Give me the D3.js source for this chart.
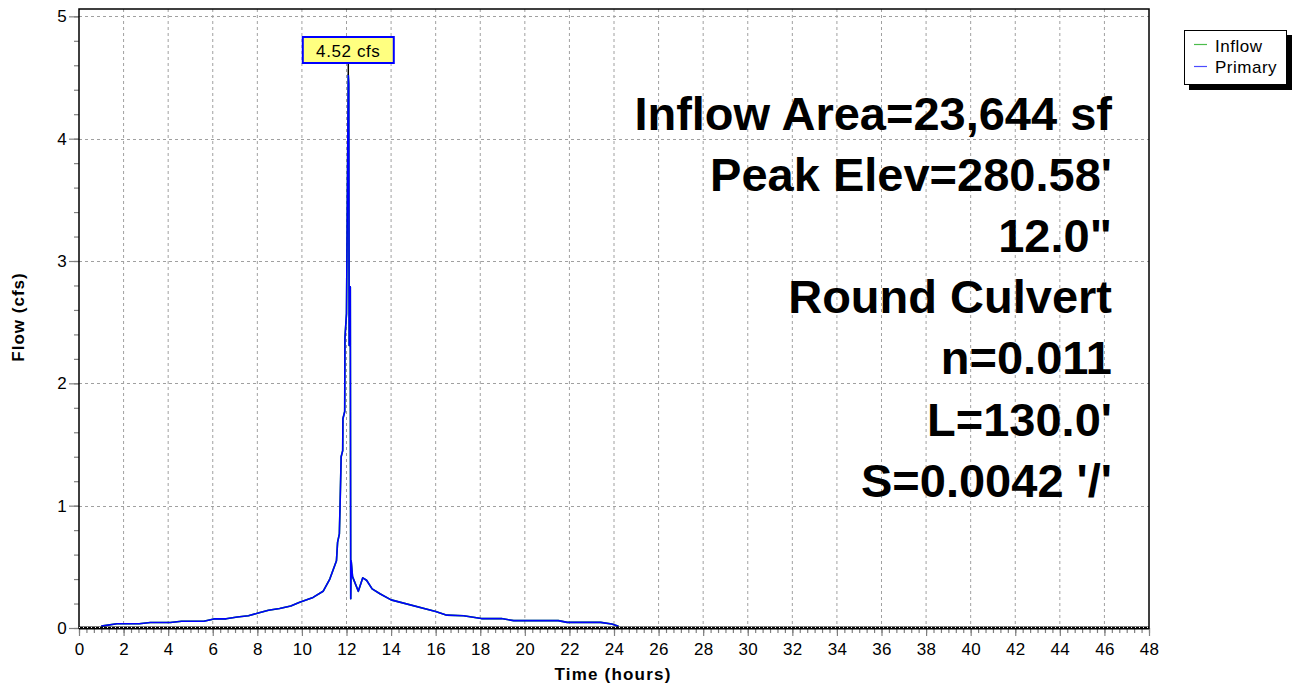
<!DOCTYPE html>
<html>
<head>
<meta charset="utf-8">
<script src="https://cdn.jsdelivr.net/npm/d3@7"></script>
<style>
  html, body { margin: 0; padding: 0; background: #fff; }
  svg { display: block; font-family: "Liberation Sans", Arial, sans-serif; }
</style>
</head>
<body>
<svg id="chart" width="1294" height="683"></svg>
<script>
// ---- data ----
const time = [1.0, 1.7, 2.7, 3.2, 4.1, 4.6, 5.6, 6.1, 6.6, 7.1, 7.6, 8.0, 8.5, 9.0, 9.5, 9.9, 10.5, 10.95, 11.25, 11.55, 11.6, 11.68, 11.72, 11.76, 11.83, 11.84, 11.92, 11.93, 12.0, 12.08, 12.1, 12.12, 12.15, 12.17, 12.19, 12.21, 12.27, 12.53, 12.73, 12.9, 13.15, 13.5, 14.0, 16.0, 16.5, 17.25, 18.05, 18.95, 19.5, 21.5, 21.9, 23.4, 23.9, 24.2];
const primary = [0.015, 0.035, 0.035, 0.045, 0.045, 0.055, 0.055, 0.075, 0.075, 0.09, 0.10, 0.12, 0.145, 0.16, 0.18, 0.21, 0.25, 0.30, 0.40, 0.55, 0.70, 0.77, 1.07, 1.40, 1.45, 1.71, 1.77, 2.37, 2.57, 4.52, 4.45, 2.31, 2.79, 2.79, 0.24, 0.55, 0.42, 0.30, 0.41, 0.39, 0.32, 0.28, 0.23, 0.135, 0.105, 0.10, 0.077, 0.077, 0.06, 0.06, 0.046, 0.046, 0.033, 0.015];
const inflow = [0.015, 0.035, 0.035, 0.045, 0.045, 0.055, 0.055, 0.075, 0.075, 0.09, 0.10, 0.12, 0.145, 0.16, 0.18, 0.21, 0.25, 0.30, 0.40, 0.55, 0.70, 0.77, 1.07, 1.40, 1.45, 1.71, 1.77, 2.37, 2.57, 4.52, 4.45, 2.31, 2.79, 2.79, 0.24, 0.55, 0.42, 0.30, 0.41, 0.39, 0.32, 0.28, 0.23, 0.135, 0.105, 0.10, 0.077, 0.077, 0.06, 0.06, 0.046, 0.046, 0.033, 0.015];
const seriesNames = ["Inflow", "Primary"];
const seriesColors = ["#00a000", "#0000ff"];
const xTickValues = [0,2,4,6,8,10,12,14,16,18,20,22,24,26,28,30,32,34,36,38,40,42,44,46,48];
const yTickValues = [0,1,2,3,4,5];
const peakTime = 12.08, peakValue = 4.52, peakLabel = "4.52 cfs";
const infoLines = ["Inflow Area=23,644 sf", "Peak Elev=280.58'", "12.0\"", "Round Culvert", "n=0.011", "L=130.0'", "S=0.0042 '/'"];
const xTitle = "Time  (hours)", yTitle = "Flow  (cfs)";

// ---- layout ----
const svg = d3.select("#chart");
const X0 = 79, X1 = 1149, Y0 = 628, Y1 = 9;
const x = d3.scaleLinear().domain([0, 48]).range([X0, X1]);
const y = d3.scaleLinear().domain([0, 5.06]).range([Y0, Y1]);

// grid
const grid = svg.append("g");
grid.selectAll("line.v").data(xTickValues.filter(d => d > 0 && d < 48)).enter().append("line")
  .attr("x1", d => x(d)).attr("x2", d => x(d)).attr("y1", Y1).attr("y2", Y0)
  .attr("stroke", "#a0a0a0").attr("stroke-width", 1).attr("stroke-dasharray", "3,3");
grid.selectAll("line.h").data(yTickValues.filter(d => d > 0)).enter().append("line")
  .attr("x1", X0).attr("x2", X1).attr("y1", d => Math.round(y(d)) + 0.5).attr("y2", d => Math.round(y(d)) + 0.5)
  .attr("stroke", "#a0a0a0").attr("stroke-width", 1).attr("stroke-dasharray", "3,3");

// axes (ticks)
const minorY = d3.range(0, 5.01, 0.2);
const yMinor = svg.append("g").attr("transform", `translate(${X0},0)`)
  .call(d3.axisLeft(y).tickValues(minorY).tickSize(5).tickFormat(""));
const yMajor = svg.append("g").attr("transform", `translate(${X0},0)`)
  .call(d3.axisLeft(y).tickValues(yTickValues).tickSize(10).tickPadding(2).tickFormat(d3.format("d")));
const minorX = d3.range(0, 48.01, 1/3);
const xMinor = svg.append("g").attr("transform", `translate(0,${Y0})`)
  .call(d3.axisBottom(x).tickValues(minorX).tickSize(5).tickFormat(""));
const xMajor = svg.append("g").attr("transform", `translate(0,${Y0})`)
  .call(d3.axisBottom(x).tickValues(xTickValues).tickSize(8).tickPadding(7).tickFormat(d3.format("d")));
[yMinor, yMajor, xMinor, xMajor].forEach(g => {
  g.select(".domain").remove();
  g.selectAll(".tick line").attr("stroke", "#808080").attr("stroke-width", 1.2);
  g.selectAll(".tick text").attr("fill", "#000").style("font-size", "17px")
    .style("font-family", "'Liberation Sans', Arial, sans-serif").style("letter-spacing", "0.3px");
});

// series lines
const line = d3.line().x((d, i) => x(time[i])).y(d => y(d));
[inflow, primary].forEach((vals, k) => {
  svg.append("path").datum(vals).attr("d", line).attr("fill", "none")
    .attr("stroke", seriesColors[k]).attr("stroke-width", 1.6).attr("stroke-linejoin", "round");
});

// frame
svg.append("rect").attr("x", X0).attr("y", Y1).attr("width", X1 - X0).attr("height", Y0 - Y1)
  .attr("fill", "none").attr("stroke", "#000").attr("stroke-width", 1.5);
svg.append("line").attr("x1", X0).attr("x2", X1).attr("y1", Y0).attr("y2", Y0)
  .attr("stroke", "#000").attr("stroke-width", 3);
svg.append("line").attr("x1", X0).attr("x2", X1).attr("y1", Y0 - 0.5).attr("y2", Y0 - 0.5)
  .attr("stroke", "#fff").attr("stroke-width", 1).attr("stroke-dasharray", "1,3");

// peak label
const px = x(peakTime), py = y(peakValue);
svg.append("line").attr("x1", px).attr("x2", px).attr("y1", 63).attr("y2", py)
  .attr("stroke", "#000").attr("stroke-width", 1.5);
svg.append("rect").attr("x", px - 45.5).attr("y", 37).attr("width", 91).attr("height", 26)
  .attr("fill", "#ffff80").attr("stroke", "#0000ff").attr("stroke-width", 2);
svg.append("text").attr("x", px).attr("y", 56.5).attr("text-anchor", "middle")
  .style("font-size", "17px").style("letter-spacing", "0.6px").text(peakLabel);

// info text
svg.append("g").selectAll("text").data(infoLines).enter().append("text")
  .attr("x", 1112).attr("y", (d, i) => 129.5 + i * 61.2).attr("text-anchor", "end")
  .style("font-size", "47px").style("font-weight", "bold").text(d => d);

// axis titles
svg.append("text").attr("x", 613).attr("y", 680).attr("text-anchor", "middle")
  .style("font-size", "17px").style("font-weight", "bold").style("letter-spacing", "1.2px").text(xTitle);
svg.append("text").attr("transform", "translate(24,317) rotate(-90)").attr("text-anchor", "middle")
  .style("font-size", "17px").style("font-weight", "bold").style("letter-spacing", "1px").text(yTitle);

// legend
const lg = svg.append("g");
lg.append("rect").attr("x", 1189).attr("y", 35).attr("width", 103).attr("height", 55).attr("fill", "#000");
lg.append("rect").attr("x", 1184.5).attr("y", 30.5).attr("width", 102).attr("height", 54)
  .attr("fill", "#fff").attr("stroke", "#000").attr("stroke-width", 1);
seriesNames.forEach((n, i) => {
  const ly = 44.5 + i * 22;
  lg.append("line").attr("x1", 1194).attr("x2", 1207).attr("y1", ly).attr("y2", ly)
    .attr("stroke", seriesColors[i]).attr("stroke-width", 1.2).attr("opacity", 0.7);
  lg.append("text").attr("x", 1215).attr("y", 51.5 + i * 21.5)
    .style("font-size", "17px").style("letter-spacing", "0.5px").text(n);
});
</script>
</body>
</html>
